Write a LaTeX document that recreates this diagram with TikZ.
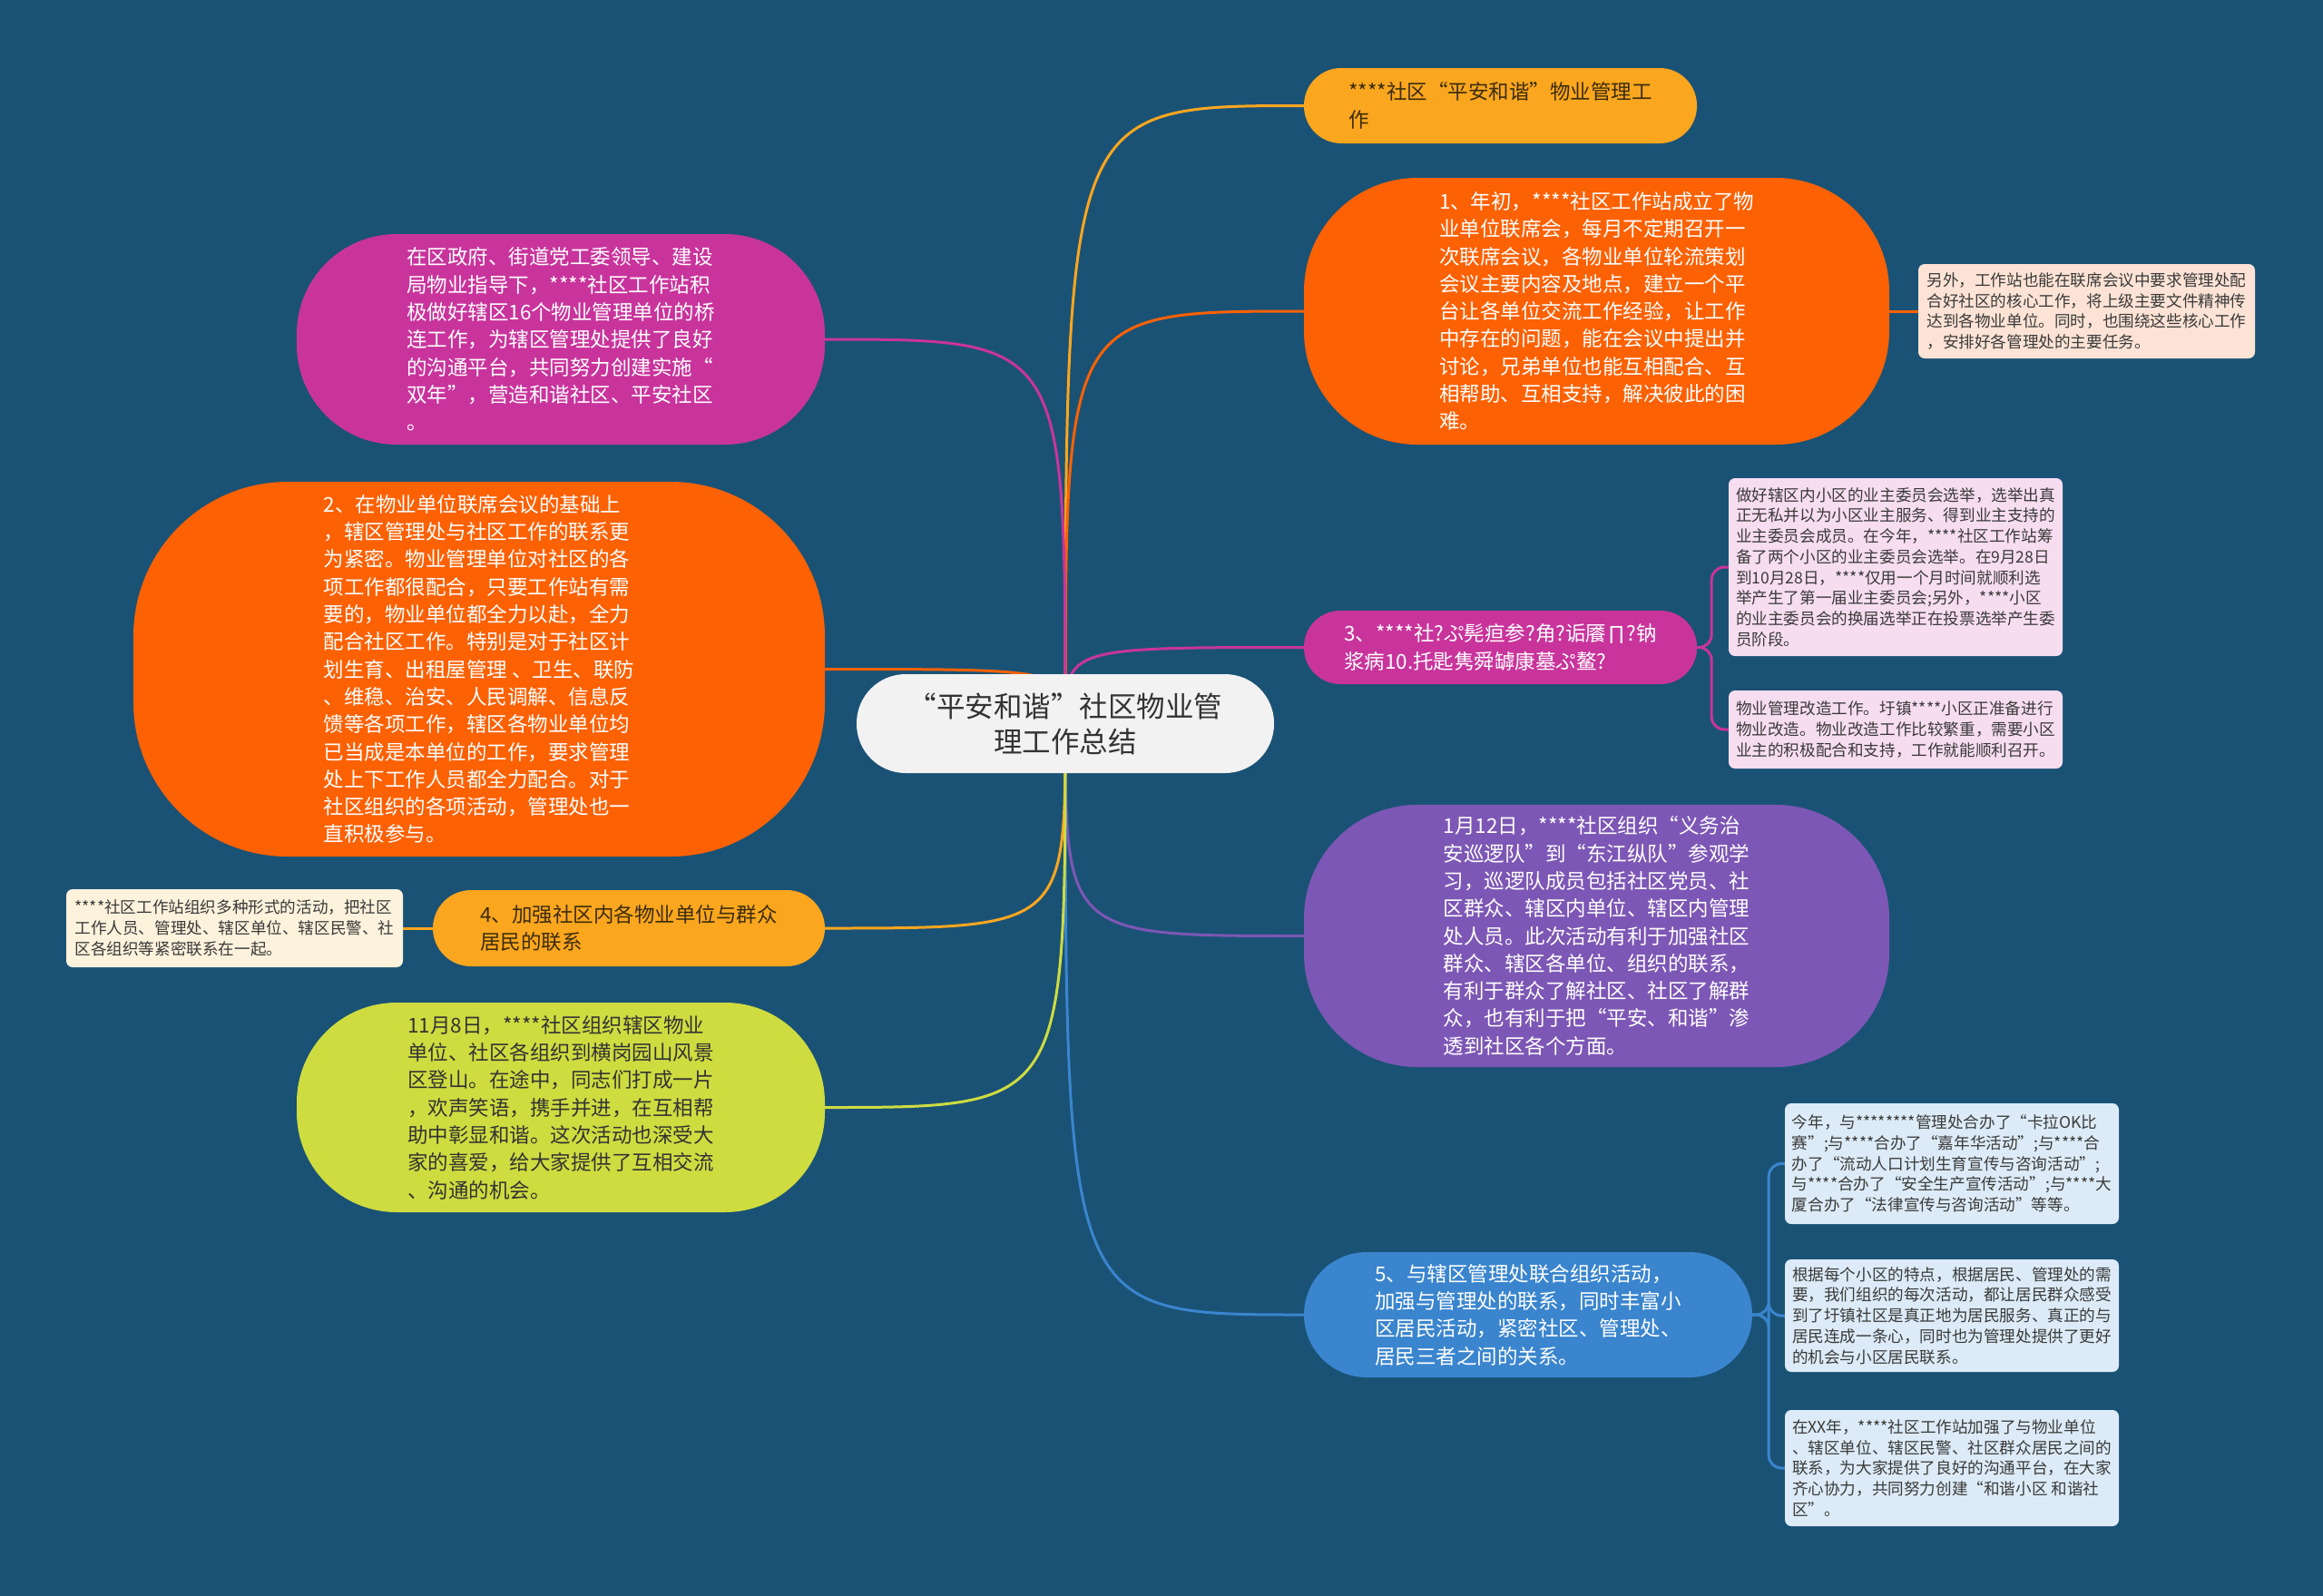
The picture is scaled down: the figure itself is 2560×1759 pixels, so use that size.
\documentclass[tikz,border=0pt]{standalone}
\usepackage{fontspec}
\setmainfont{Noto Sans CJK SC}
\usetikzlibrary{positioning,backgrounds}
\definecolor{bgblue}{HTML}{1A5275}
\definecolor{hubgray}{HTML}{F2F2F2}
\definecolor{hubtext}{HTML}{333333}
\definecolor{amber}{HTML}{FAA61E}
\definecolor{ambertext}{HTML}{3B2C0C}
\definecolor{orangefill}{HTML}{FC6104}
\definecolor{magenta}{HTML}{C9349C}
\definecolor{purplefill}{HTML}{7D57B5}
\definecolor{limefill}{HTML}{CEDC40}
\definecolor{bluefill}{HTML}{3A85CE}
\definecolor{peach}{HTML}{FCE3D5}
\definecolor{pinknote}{HTML}{F7DDF0}
\definecolor{cream}{HTML}{FDF2DC}
\definecolor{bluenote}{HTML}{DCEBF7}
\definecolor{memotext}{HTML}{3A3A3A}

\begin{document}
\begin{tikzpicture}[x=1pt,y=-1pt,
  every node/.style={inner sep=0pt,align=left},
  hub/.style={fill=hubgray,text=hubtext,rounded corners=54,align=center,font=\fontsize{31.5}{39}\selectfont},
  branch/.style={rounded corners=#1,font=\fontsize{22.5}{30.3}\selectfont},
  memo/.style={rounded corners=7,text=memotext,font=\fontsize{17.6}{22.7}\selectfont},
  link/.style={line width=3pt}]
  \useasboundingbox (0,0) rectangle (2560,1759);

  \node[hub,minimum width=460,minimum height=109] (hub) at (1174,797.5) {“平安和谐”社区物业管\\理工作总结};

  \node[branch=41,fill=amber,text=ambertext,minimum width=433,minimum height=83] (topic) at (1653.5,116.5) {****社区“平安和谐”物业管理工\\作\hspace*{13em}};
  \node[branch=125,fill=orangefill,text=white,minimum width=645,minimum height=294] (work1) at (1759.5,343) {1、年初，****社区工作站成立了物\\业单位联席会，每月不定期召开一\\次联席会议，各物业单位轮流策划\\会议主要内容及地点，建立一个平\\台让各单位交流工作经验，让工作\\中存在的问题，能在会议中提出并\\讨论，兄弟单位也能互相配合、互\\相帮助、互相支持，解决彼此的困\\难。};
  \node[memo,fill=peach,minimum width=371,minimum height=104] (note1) at (2299.5,343) {另外，工作站也能在联席会议中要求管理处配\\合好社区的核心工作，将上级主要文件精神传\\达到各物业单位。同时，也围绕这些核心工作\\，安排好各管理处的主要任务。};

  \node[branch=110,fill=magenta,text=white,minimum width=582,minimum height=232] (guide) at (618,374) {在区政府、街道党工委领导、建设\\局物业指导下，****社区工作站积\\极做好辖区16个物业管理单位的桥\\连工作，为辖区管理处提供了良好\\的沟通平台，共同努力创建实施“\\双年”，营造和谐社区、平安社区\\。};
  \node[branch=170,fill=orangefill,text=white,minimum width=762,minimum height=413] (work2) at (528,737.5) {2、在物业单位联席会议的基础上\\，辖区管理处与社区工作的联系更\\为紧密。物业管理单位对社区的各\\项工作都很配合，只要工作站有需\\要的，物业单位都全力以赴，全力\\配合社区工作。特别是对于社区计\\划生育、出租屋管理 、卫生、联防\\、维稳、治安、人民调解、信息反\\馈等各项工作，辖区各物业单位均\\已当成是本单位的工作，要求管理\\处上下工作人员都全力配合。对于\\社区组织的各项活动，管理处也一\\直积极参与。};

  \node[branch=40,fill=magenta,text=white,minimum width=433,minimum height=81] (work3) at (1653.5,713.5) {3、****社?ぷ髡疸参?角?诟餍∏?钠\\浆病10.托匙隽舜罅康墓ぷ鳌?};
  \node[memo,fill=pinknote,minimum width=368,minimum height=196] (note3a) at (2089,625) {做好辖区内小区的业主委员会选举，选举出真\\正无私并以为小区业主服务、得到业主支持的\\业主委员会成员。在今年，****社区工作站筹\\备了两个小区的业主委员会选举。在9月28日\\到10月28日，****仅用一个月时间就顺利选\\举产生了第一届业主委员会;另外，****小区\\的业主委员会的换届选举正在投票选举产生委\\员阶段。};
  \node[memo,fill=pinknote,minimum width=368,minimum height=86] (note3b) at (2089,804) {物业管理改造工作。圩镇****小区正准备进行\\物业改造。物业改造工作比较繁重，需要小区\\业主的积极配合和支持，工作就能顺利召开。};

  \node[branch=125,fill=purplefill,text=white,minimum width=645,minimum height=289] (patrol) at (1759.5,1031.5) {1月12日，****社区组织“义务治\\安巡逻队”到“东江纵队”参观学\\习，巡逻队成员包括社区党员、社\\区群众、辖区内单位、辖区内管理\\处人员。此次活动有利于加强社区\\群众、辖区各单位、组织的联系，\\有利于群众了解社区、社区了解群\\众，也有利于把“平安、和谐”渗\\透到社区各个方面。};

  \node[branch=42,fill=amber,text=ambertext,minimum width=432,minimum height=84] (work4) at (693,1023) {4、加强社区内各物业单位与群众\\居民的联系};
  \node[memo,fill=cream,minimum width=371,minimum height=86] (note4) at (258.5,1023) {****社区工作站组织多种形式的活动，把社区\\工作人员、管理处、辖区单位、辖区民警、社\\区各组织等紧密联系在一起。};

  \node[branch=110,fill=limefill,text=hubtext,minimum width=582,minimum height=231] (hike) at (618,1220.5) {11月8日，****社区组织辖区物业\\单位、社区各组织到横岗园山风景\\区登山。在途中，同志们打成一片\\，欢声笑语，携手并进，在互相帮\\助中彰显和谐。这次活动也深受大\\家的喜爱，给大家提供了互相交流\\、沟通的机会。};

  \node[branch=69,fill=bluefill,text=white,minimum width=494,minimum height=138] (work5) at (1684,1449) {5、与辖区管理处联合组织活动，\\加强与管理处的联系，同时丰富小\\区居民活动，紧密社区、管理处、\\居民三者之间的关系。};
  \node[memo,fill=bluenote,minimum width=368,minimum height=133] (note5a) at (2151,1282.5) {今年，与********管理处合办了“卡拉OK比\\赛”;与****合办了“嘉年华活动”;与****合\\办了“流动人口计划生育宣传与咨询活动”;\\与****合办了“安全生产宣传活动”;与****大\\厦合办了“法律宣传与咨询活动”等等。};
  \node[memo,fill=bluenote,minimum width=368,minimum height=124] (note5b) at (2151,1450) {根据每个小区的特点，根据居民、管理处的需\\要，我们组织的每次活动，都让居民群众感受\\到了圩镇社区是真正地为居民服务、真正的与\\居民连成一条心，同时也为管理处提供了更好\\的机会与小区居民联系。};
  \node[memo,fill=bluenote,minimum width=368,minimum height=128] (note5c) at (2151,1618) {在XX年，****社区工作站加强了与物业单位\\、辖区单位、辖区民警、社区群众居民之间的\\联系，为大家提供了良好的沟通平台，在大家\\齐心协力，共同努力创建“和谐小区 和谐社\\区”。};

  \begin{scope}[on background layer]
    \fill[bgblue] (0,0) rectangle (2560,1759);
    \draw[link,amber] (hub.center) .. controls (hub.center |- topic.west) .. (topic.west);
    \draw[link,orangefill] (hub.center) .. controls (hub.center |- work1.west) .. (work1.west);
    \draw[link,magenta] (hub.center) .. controls (hub.center |- work3.west) .. (work3.west);
    \draw[link,purplefill] (hub.center) .. controls (hub.center |- patrol.west) .. (patrol.west);
    \draw[link,bluefill] (hub.center) .. controls (hub.center |- work5.west) .. (work5.west);
    \draw[link,magenta] (hub.center) .. controls (hub.center |- guide.east) .. (guide.east);
    \draw[link,orangefill] (hub.center) .. controls (hub.center |- work2.east) .. (work2.east);
    \draw[link,amber] (hub.center) .. controls (hub.center |- work4.east) .. (work4.east);
    \draw[link,limefill] (hub.center) .. controls (hub.center |- hike.east) .. (hike.east);
    \draw[link,orangefill] (work1.east) -- (note1.west);
    \draw[link,amber] (work4.west) -- (note4.east);
    \draw[link,magenta,rounded corners=14] (work3.east) -- ++(16,0) |- (note3a.west);
    \draw[link,magenta,rounded corners=14] (work3.east) -- ++(16,0) |- (note3b.west);
    \draw[link,bluefill,rounded corners=14] (work5.east) -- ++(18,0) |- (note5a.west);
    \draw[link,bluefill,rounded corners=14] (work5.east) -- ++(18,0) |- (note5b.west);
    \draw[link,bluefill,rounded corners=14] (work5.east) -- ++(18,0) |- (note5c.west);
  \end{scope}
\end{tikzpicture}
\end{document}
